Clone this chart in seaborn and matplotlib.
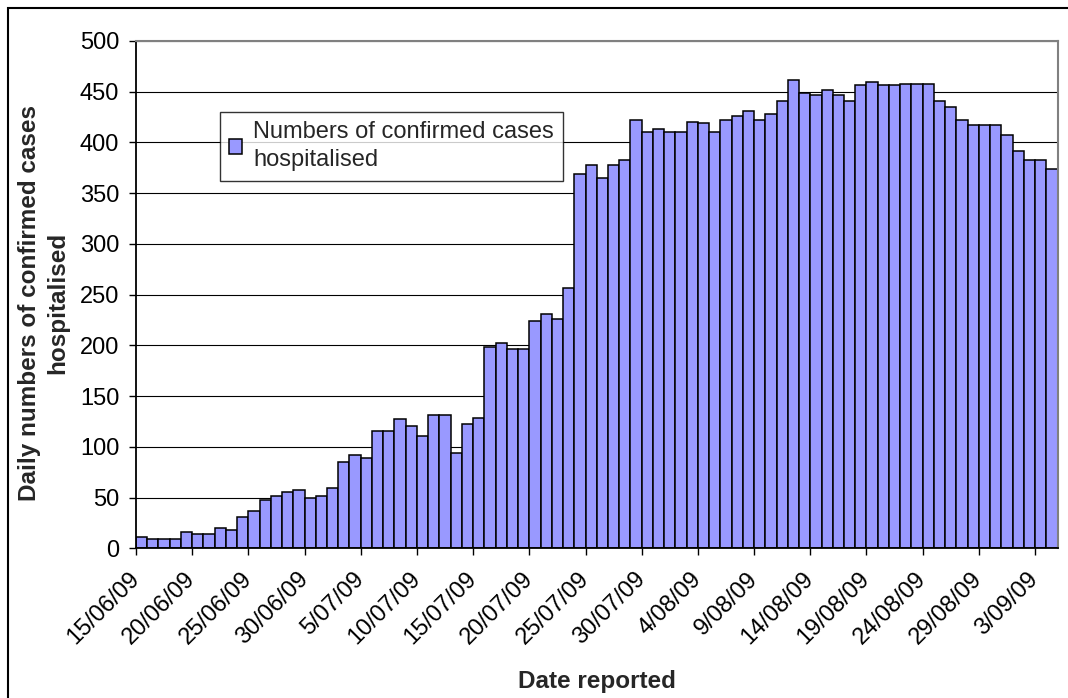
import pandas as pd
import numpy as np
import matplotlib.pyplot as plt
import seaborn as sns
from matplotlib.patches import Rectangle

sns.set_style("white")
plt.rcParams['font.family'] = ['Liberation Sans', 'DejaVu Sans']

# daily counts, 15/06/09 onwards
start_date = '2009-06-15'
hospitalised = [11, 9, 9, 9, 16, 14, 14, 20, 18, 31,
                37, 48, 52, 55, 57, 50, 52, 59, 85, 92,
                89, 116, 116, 127, 120, 111, 131, 131, 94, 122,
                128, 198, 202, 196, 196, 224, 231, 226, 256, 369,
                378, 365, 378, 383, 422, 410, 413, 410, 410, 420,
                419, 410, 422, 426, 431, 422, 428, 441, 461, 449,
                447, 452, 447, 441, 456, 459, 456, 456, 457, 457,
                457, 441, 435, 422, 417, 417, 417, 407, 391, 383,
                383, 374]
tick_labels = ['15/06/09', '20/06/09', '25/06/09', '30/06/09', '5/07/09',
               '10/07/09', '15/07/09', '20/07/09', '25/07/09', '30/07/09',
               '4/08/09', '9/08/09', '14/08/09', '19/08/09', '24/08/09',
               '29/08/09', '3/09/09']
y_ticks = [0, 50, 100, 150, 200, 250, 300, 350, 400, 450, 500]
series_name = 'Numbers of confirmed cases\nhospitalised'

dates = pd.date_range(start_date, periods=len(hospitalised), freq='D')
df = pd.DataFrame({'date': dates.strftime('%d/%m/%y'), 'cases': hospitalised})

fig = plt.figure(figsize=(10.68, 6.98), dpi=100)
ax = fig.add_axes([0.1273, 0.2145, 0.8629, 0.7270])

sns.barplot(data=df, x='date', y='cases', color='#9999FF', saturation=1,
            width=1, edgecolor='black', linewidth=1.1, label=series_name,
            ax=ax, zorder=2)

ax.set_xlim(-0.5, len(hospitalised) - 0.5)
ax.set_ylim(0, 500)
ax.set_yticks(y_ticks)
ax.set_yticklabels([str(v) for v in y_ticks])
ax.set_xticks(np.arange(0, len(hospitalised), 5)[:len(tick_labels)] - 0.5)
ax.set_xticklabels(tick_labels)

ax.set_axisbelow(True)
ax.yaxis.grid(True, color='black', lw=0.8)
ax.xaxis.grid(False)

ax.tick_params(axis='both', bottom=True, left=True, direction='out',
               length=5, width=1, colors='black', labelsize=17)
ax.tick_params(axis='y', pad=7)
ax.tick_params(axis='x', pad=15)
plt.setp(ax.get_xticklabels(), rotation=45, ha='right', va='center',
         rotation_mode='anchor')

for side in ['left', 'bottom']:
    ax.spines[side].set_color('black')
    ax.spines[side].set_linewidth(1.3)
for side in ['top', 'right']:
    ax.spines[side].set_color('#808080')
    ax.spines[side].set_linewidth(1.5)

ax.set_xlabel('Date reported', fontsize=17.5, fontweight='bold')
ax.xaxis.set_label_coords(0.5, -0.2398)
ax.xaxis.label.set_va('top')
ax.set_ylabel('Daily numbers of confirmed cases\nhospitalised',
              fontsize=17.5, fontweight='bold', linespacing=1.3)
ax.yaxis.set_label_coords(-0.0999, 0.483)
ax.yaxis.label.set_va('center')

leg = ax.legend(loc='upper left', bbox_to_anchor=(220 / 1068, 1 - 112 / 698),
                bbox_transform=fig.transFigure, fontsize=17, frameon=True,
                fancybox=False, handlelength=0.55, handleheight=0.55,
                handletextpad=0.45, borderpad=0.4, borderaxespad=0)
leg.get_texts()[0].set_linespacing(1.35)
leg.get_frame().set_edgecolor('black')
leg.get_frame().set_linewidth(1)

# outer chart border (cut at the right and bottom edge)
fig.add_artist(Rectangle((8 / 1068, -0.1), 1.2, 1.1 - 8 / 698,
                         transform=fig.transFigure, fill=False,
                         edgecolor='black', lw=1.5))

fig.savefig('out.png', dpi=100)
